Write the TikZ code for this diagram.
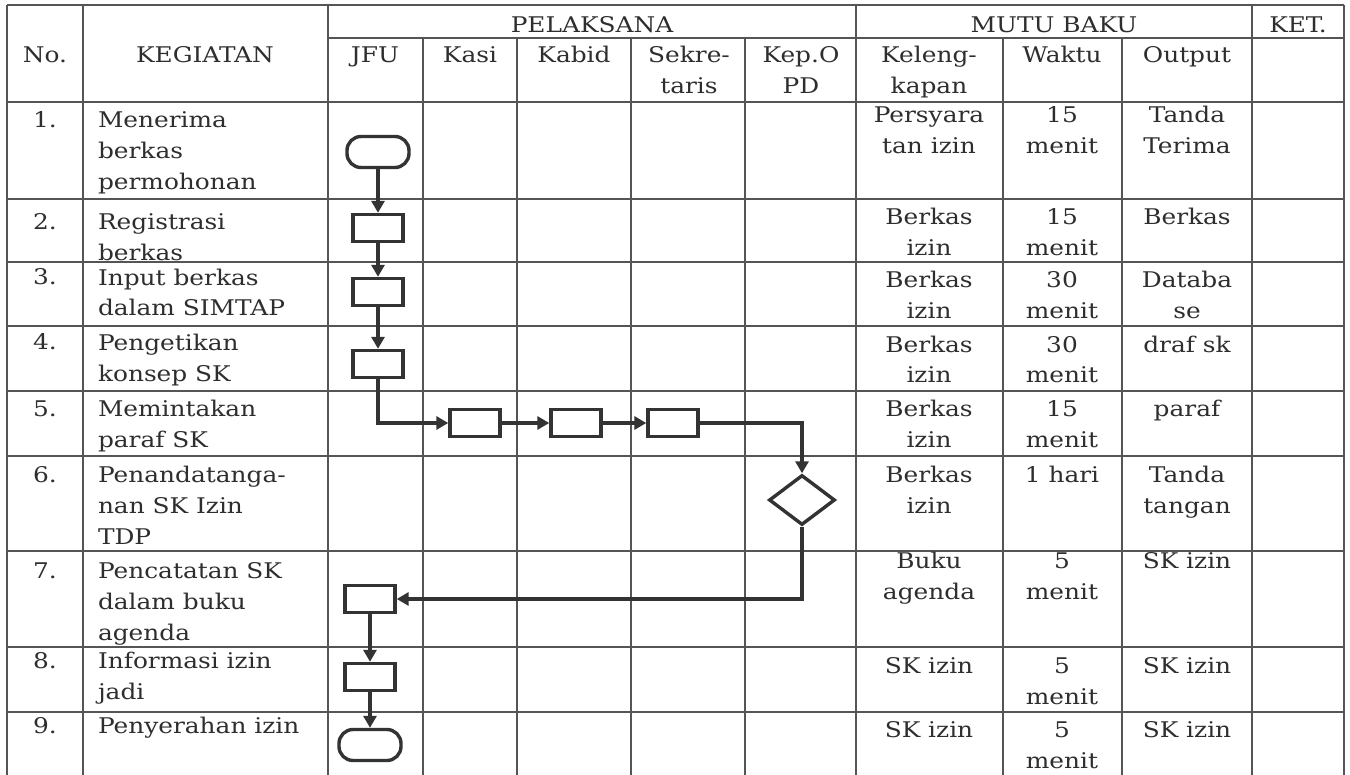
\documentclass[tikz,border=0pt]{standalone}
\usepackage{fontspec}
\setmainfont[FakeStretch=1.15]{DejaVu Serif}
\usetikzlibrary{arrows.meta,shapes.geometric}
\definecolor{gridc}{HTML}{555555}
\definecolor{flowc}{HTML}{333333}
\definecolor{txtc}{HTML}{2E2E2E}
\newcommand{\cellfont}{\fontsize{10.8}{15.5}\selectfont}
\begin{document}
\begin{tikzpicture}[x=0.5pt,y=-0.5pt,
  grid/.style={draw=gridc,line width=0.8pt},
  txt/.style={inner sep=0pt,outer sep=0pt,text=txtc,font=\cellfont},
  tl/.style={txt,anchor=base west,align=left},
  tc/.style={txt,anchor=base,align=center},
  proc/.style={draw=flowc,line width=1.7pt,rectangle,minimum width=25pt,minimum height=13.5pt,inner sep=0pt},
  term/.style={draw=flowc,line width=1.7pt,rectangle,rounded corners=7pt,minimum width=31pt,minimum height=15.5pt,inner sep=0pt},
  dec/.style={draw=flowc,line width=1.7pt,diamond,minimum width=33pt,minimum height=25pt,inner sep=0pt},
  flow/.style={draw=flowc,line width=1.6pt,-{Triangle[length=6pt,width=6.5pt]}}
]
\useasboundingbox[fill=white] (0,0) rectangle (1350,775);

% grid
\draw[grid] (7,5) -- (1344,5);
\draw[grid] (328,38) -- (1344,38);
\foreach \yy in {102,199,262,326,391,456,551,647,712}
  \draw[grid] (7,\yy) -- (1344,\yy);
\foreach \xx in {7,83,328,856,1252,1344}
  \draw[grid] (\xx,5) -- (\xx,775);
\foreach \xx in {423,517,631,745,1003,1122}
  \draw[grid] (\xx,38) -- (\xx,775);

% header (base anchor = baseline of the last line)
\node[tc] (hno) at (45,63) {No.};
\node[tc] (hkeg) at (205,63) {KEGIATAN};
\node[tc] (hpel) at (592,33) {PELAKSANA};
\node[tc] (hmutu) at (1054,33) {MUTU BAKU};
\node[tc] (hket) at (1298,33) {KET.};
\node[tc] (hjfu) at (375,63) {JFU};
\node[tc] (hkasi) at (470,63) {Kasi};
\node[tc] (hkabid) at (574,63) {Kabid};
\node[tc] (hsek) at (689,94) {Sekre-\\taris};
\node[tc] (hkep) at (801,94) {Kep.O\\PD};
\node[tc] (hkel) at (929,94) {Keleng-\\kapan};
\node[tc] (hwak) at (1062,63) {Waktu};
\node[tc] (hout) at (1187,63) {Output};

% row 1
\node[tc] (n1) at (45,128) {1.};
\node[tl] (k1) at (98,190) {Menerima\\berkas\\permohonan};
\node[tc] (l1) at (929,154) {Persyara\\tan izin};
\node[tc] (w1) at (1062,154) {15\\menit};
\node[tc] (o1) at (1187,154) {Tanda\\Terima};
% row 2
\node[tc] (n2) at (45,230) {2.};
\node[tl] (k2) at (98,261) {Registrasi\\berkas};
\node[tc] (l2) at (929,256) {Berkas\\izin};
\node[tc] (w2) at (1062,256) {15\\menit};
\node[tc] (o2) at (1187,225) {Berkas};
% row 3
\node[tc] (n3) at (45,285) {3.};
\node[tl] (k3) at (98,316) {Input berkas\\dalam SIMTAP};
\node[tc] (l3) at (929,319) {Berkas\\izin};
\node[tc] (w3) at (1062,319) {30\\menit};
\node[tc] (o3) at (1187,319) {Databa\\se};
% row 4
\node[tc] (n4) at (45,350) {4.};
\node[tl] (k4) at (98,381) {Pengetikan\\konsep SK};
\node[tc] (l4) at (929,383) {Berkas\\izin};
\node[tc] (w4) at (1062,383) {30\\menit};
\node[tc] (o4) at (1187,352) {draf sk};
% row 5
\node[tc] (n5) at (45,416) {5.};
\node[tl] (k5) at (98,447) {Memintakan\\paraf SK};
\node[tc] (l5) at (929,447) {Berkas\\izin};
\node[tc] (w5) at (1062,447) {15\\menit};
\node[tc] (o5) at (1187,416) {paraf};
% row 6
\node[tc] (n6) at (45,482) {6.};
\node[tl] (k6) at (98,544) {Penandatanga-\\nan SK Izin\\TDP};
\node[tc] (l6) at (929,513) {Berkas\\izin};
\node[tc] (w6) at (1062,482) {1 hari};
\node[tc] (o6) at (1187,513) {Tanda\\tangan};
% row 7
\node[tc] (n7) at (45,578) {7.};
\node[tl] (k7) at (98,640) {Pencatatan SK\\dalam buku\\agenda};
\node[tc] (l7) at (929,599) {Buku\\agenda};
\node[tc] (w7) at (1062,599) {5\\menit};
\node[tc] (o7) at (1187,568) {SK izin};
% row 8
\node[tc] (n8) at (45,668) {8.};
\node[tl] (k8) at (98,699) {Informasi izin\\jadi};
\node[tc] (l8) at (929,673) {SK izin};
\node[tc] (w8) at (1062,704) {5\\menit};
\node[tc] (o8) at (1187,673) {SK izin};
% row 9
\node[tc] (n9) at (45,733) {9.};
\node[tl] (k9) at (98,733) {Penyerahan izin};
\node[tc] (l9) at (929,737) {SK izin};
\node[tc] (w9) at (1062,768) {5\\menit};
\node[tc] (o9) at (1187,737) {SK izin};

% flow shapes
\node[term] (t1) at (378,152) {};
\node[proc] (b2) at (378,228) {};
\node[proc] (b3) at (378,292) {};
\node[proc] (b4) at (378,364) {};
\node[proc] (b5a) at (475,423) {};
\node[proc] (b5b) at (576,423) {};
\node[proc] (b5c) at (673,423) {};
\node[dec] (d6) at (802,500) {};
\node[proc] (b7) at (370,599) {};
\node[proc] (b8) at (370,677) {};
\node[term] (t9) at (370,745) {};

% connectors
\draw[flow] (t1) -- (b2);
\draw[flow] (b2) -- (b3);
\draw[flow] (b3) -- (b4);
\draw[flow] (b4.south) |- (b5a.west);
\draw[flow] (b5a) -- (b5b);
\draw[flow] (b5b) -- (b5c);
\draw[flow] (b5c.east) -| (d6.north);
\draw[flow] (d6.south) |- (b7.east);
\draw[flow] (b7) -- (b8);
\draw[flow] (b8) -- (t9);
\end{tikzpicture}
\end{document}
